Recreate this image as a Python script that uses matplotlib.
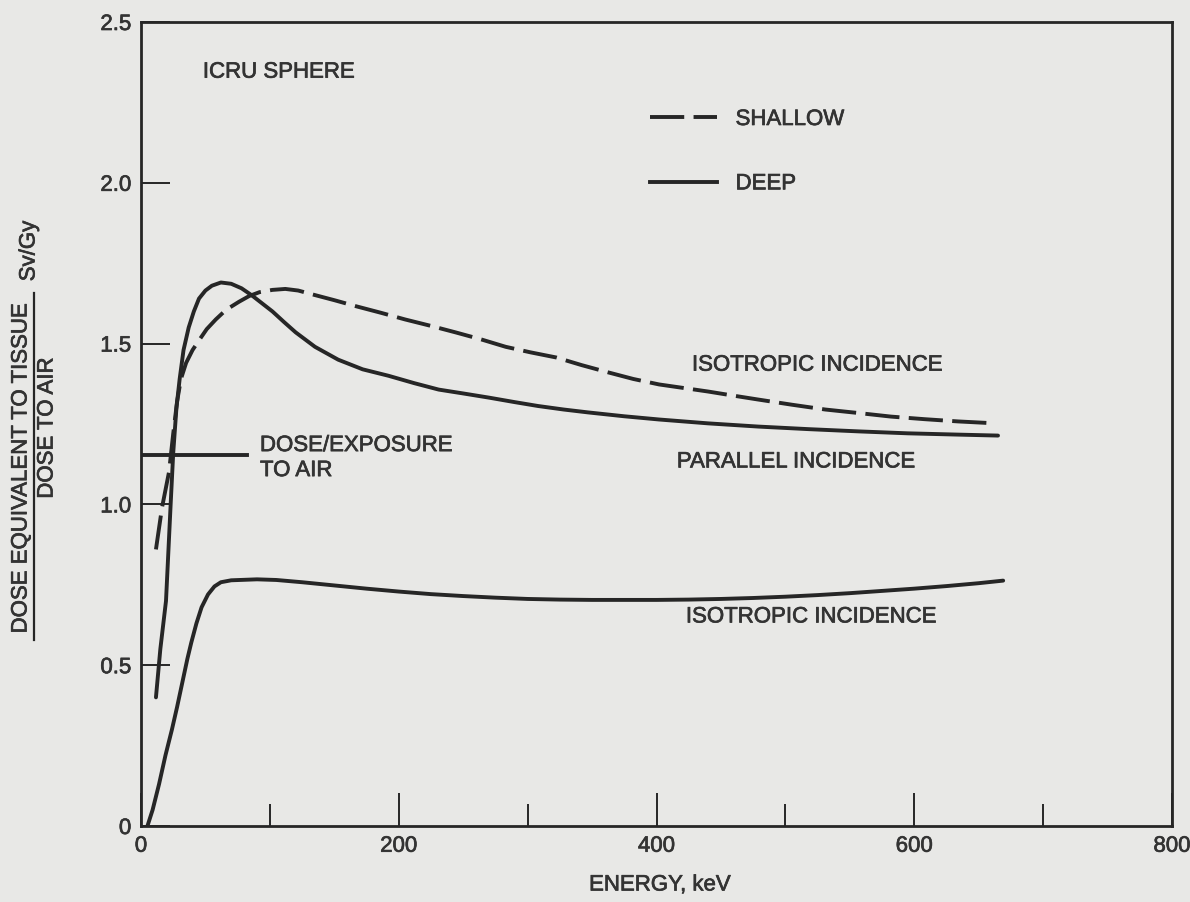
import matplotlib
matplotlib.use("Agg")
import matplotlib.pyplot as plt
import matplotlib.patheffects as pe
from matplotlib.lines import Line2D

# ---- data (energy in keV, ratio in Sv/Gy) ----
parallel_deep_x = [11.6, 15, 19.4, 23, 25, 27.5, 30, 33, 37, 41, 45, 50, 55, 62, 70, 78, 86,
                   94, 102, 111, 120, 135, 153, 172, 192, 212, 231, 250, 270, 290, 308, 328,
                   347, 375, 402, 440, 479, 518, 557, 595, 634, 665]
parallel_deep_y = [0.40, 0.55, 0.70, 1.00, 1.16, 1.30, 1.39, 1.48, 1.55, 1.60, 1.64, 1.665,
                   1.68, 1.69, 1.686, 1.672, 1.65, 1.625, 1.60, 1.567, 1.535, 1.49, 1.45,
                   1.42, 1.40, 1.377, 1.357, 1.345, 1.332, 1.318, 1.306, 1.295, 1.286, 1.274,
                   1.264, 1.252, 1.242, 1.234, 1.227, 1.221, 1.217, 1.214]

isotropic_shallow_x = [11.6, 16.3, 21.7, 25, 28, 31, 35, 40, 45, 51, 58, 66, 76, 84, 92,
                       102, 112, 122, 133, 150, 167, 186, 205, 225, 244, 264, 283, 302, 322,
                       342, 363, 382, 402, 421, 440, 460, 479, 505, 531, 557, 582, 608, 634,
                       663]
isotropic_shallow_y = [0.86, 0.99, 1.10, 1.22, 1.32, 1.39, 1.44, 1.48, 1.51, 1.545, 1.575,
                       1.605, 1.63, 1.648, 1.66, 1.667, 1.67, 1.665, 1.653, 1.635, 1.616,
                       1.596, 1.575, 1.555, 1.535, 1.513, 1.49, 1.473, 1.457, 1.433, 1.41,
                       1.39, 1.373, 1.362, 1.351, 1.338, 1.326, 1.31, 1.295, 1.284, 1.273,
                       1.265, 1.258, 1.252]

isotropic_deep_x = [5, 9, 14, 19, 24, 28, 32, 36, 39, 43, 47, 52, 57, 62, 70, 90,
                    105, 125, 150, 175, 200, 225, 250, 275, 300, 325, 350, 375, 400, 425,
                    450, 475, 500, 525, 550, 575, 600, 625, 650, 669]
isotropic_deep_y = [0.0, 0.05, 0.13, 0.22, 0.30, 0.37, 0.445, 0.52, 0.57, 0.63, 0.68, 0.72,
                    0.745, 0.758, 0.764, 0.767, 0.765, 0.758, 0.748, 0.738, 0.729,
                    0.721, 0.715, 0.71, 0.706, 0.704, 0.703, 0.703, 0.703, 0.704, 0.706,
                    0.709, 0.713, 0.718, 0.724, 0.731, 0.738, 0.746, 0.755, 0.763]

air_x = [0, 82]
air_y = [1.155, 1.155]

x_major = [0, 200, 400, 600, 800]
x_minor = [100, 300, 500, 700]
y_ticks = [0, 0.5, 1.0, 1.5, 2.0, 2.5]
y_ticklabels = ["0", "0.5", "1.0", "1.5", "2.0", "2.5"]

# ---- style ----
BG = "#e8e8e6"
INK = "#262626"
TXT = "#333333"
FS = 16
plt.rcParams["font.family"] = ["Liberation Sans", "DejaVu Sans"]
plt.rcParams["font.size"] = FS
thick = [pe.withStroke(linewidth=0.5, foreground=TXT)]

fig = plt.figure(figsize=(11.9, 9.02), dpi=100, facecolor=BG)
ax = fig.add_axes([141 / 1190, 1 - 826 / 902, 1031 / 1190, 804 / 902], facecolor=BG)

lw = 2.8
dash = (0, (8.8, 2.4))
ax.plot(parallel_deep_x, parallel_deep_y, color=INK, lw=lw, solid_capstyle="round")
ax.plot(isotropic_shallow_x, isotropic_shallow_y, color=INK, lw=lw, linestyle=dash)
ax.plot(isotropic_deep_x, isotropic_deep_y, color=INK, lw=lw, solid_capstyle="round")
ax.plot(air_x, air_y, color=INK, lw=lw)

ax.set_xlim(0, 800)
ax.set_ylim(0, 2.5)
ax.set_xticks(x_major)
ax.set_xticks(x_minor, minor=True)
ax.set_yticks(y_ticks)
ax.set_yticklabels(y_ticklabels)

for sp in ax.spines.values():
    sp.set_color(INK)
    sp.set_linewidth(2.0)

ax.tick_params(axis="x", which="major", direction="in", length=24, width=1.4,
               color=INK, labelcolor=TXT, labelsize=FS, pad=7)
ax.tick_params(axis="x", which="minor", direction="in", length=16, width=1.4, color=INK)
ax.tick_params(axis="y", which="major", direction="in", length=21, width=1.4,
               color=INK, labelcolor=TXT, labelsize=16, pad=7)
for lab in ax.get_xticklabels() + ax.get_yticklabels():
    lab.set_path_effects(thick)

# annotations
notes = [
    ax.text(48, 2.344, "ICRU SPHERE", color=TXT, va="center", ha="left"),
    ax.text(427.5, 1.433, "ISOTROPIC INCIDENCE", color=TXT, va="center"),
    ax.text(415.8, 1.132, "PARALLEL INCIDENCE", color=TXT, va="center"),
    ax.text(422.8, 0.65, "ISOTROPIC INCIDENCE", color=TXT, va="center"),
    ax.text(92.3, 1.144, "DOSE/EXPOSURE\nTO AIR", color=TXT, va="center",
            linespacing=1.25),
]

handles = [Line2D([], [], color=INK, lw=lw, linestyle=dash),
           Line2D([], [], color=INK, lw=lw)]
leg = ax.legend(handles, ["SHALLOW", "DEEP"], loc="upper left",
                bbox_to_anchor=((650 - 141) / 1031, (826 - 109) / 804),
                frameon=False, borderpad=0, borderaxespad=0, handlelength=3.0,
                handletextpad=0.85, labelspacing=1.95, fontsize=FS, labelcolor=TXT)
notes += leg.get_texts()

# axis titles
notes += [
    fig.text(660 / 1190, 1 - 885 / 902, "ENERGY, keV", color=TXT,
             ha="center", va="center"),
    fig.text(21 / 1190, 1 - 468 / 902, "DOSE EQUIVALENT TO TISSUE", color=TXT,
             rotation=90, ha="center", va="center"),
    fig.text(47 / 1190, 1 - 428 / 902, "DOSE TO AIR", color=TXT,
             rotation=90, ha="center", va="center"),
    fig.text(29 / 1190, 1 - 251 / 902, "Sv/Gy", color=TXT,
             rotation=90, ha="center", va="center"),
]
for t in notes:
    t.set_path_effects(thick)

fig.add_artist(Line2D([34 / 1190, 34 / 1190], [1 - 293 / 902, 1 - 640 / 902],
                      transform=fig.transFigure, color=INK, lw=1.6))

fig.savefig("out.png", dpi=100, facecolor=BG)
